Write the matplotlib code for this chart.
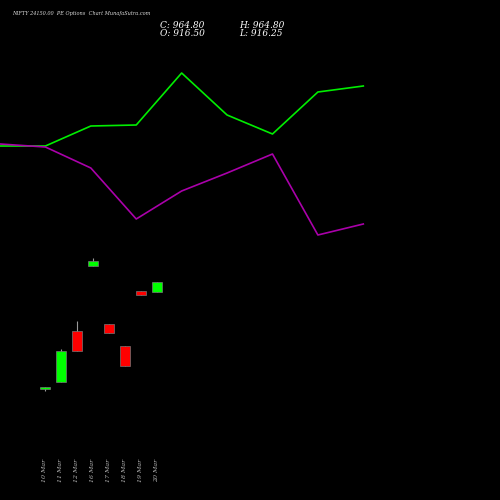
import matplotlib
matplotlib.use("Agg")
import matplotlib.pyplot as plt

dates = ["10 Mar","11 Mar","12 Mar","16 Mar","17 Mar","18 Mar","19 Mar","20 Mar"]
opens = [448, 482, 728, 1042, 762, 656, 921, 916.5]
highs = [458, 641, 776, 1081, 762, 656, 921, 964.8]
lows = [438, 481, 631, 1042, 718, 559, 902, 916.25]
closes = [457, 631, 631, 1066, 718, 559, 902, 964.8]
green_line = [354, 354, 374, 375, 427, 385, 366, 408, 414]
magenta_line = [356, 353, 332, 281, 309, 327, 346, 265, 276]

fig = plt.figure(figsize=(5, 5), dpi=100, facecolor="black")
ax = fig.add_axes([0, 0, 1, 1], facecolor="black")
ax.set_xlim(-2.81, 28.44)
ax.set_ylim(-88, 2327)
for i, (o, h, l, c) in enumerate(zip(opens, highs, lows, closes)):
    col = "#00ff00" if c >= o else "#ff0000"
    ax.vlines(i, l, h, color="#999999", lw=0.8, zorder=1)
    lo, hi = min(o, c), max(o, c)
    ax.bar(i, max(hi - lo, 8), bottom=lo, width=0.58, color=col,
           edgecolor="#777777", lw=0.5, zorder=2)
for i, d in enumerate(dates):
    ax.text(i, 0.036, d, transform=ax.get_xaxis_transform(), rotation=90,
            ha="center", va="bottom", color="#bbbbbb", fontsize=4.5,
            family="DejaVu Serif", style="italic")
ax.axis("off")

ax2 = fig.add_axes([0, 0, 1, 1], facecolor="none")
ax2.set_xlim(0, 11.01)
ax2.set_ylim(0, 500)
xs = list(range(len(green_line)))
ax2.plot(xs, green_line, color="#00ee00", lw=1.2)
ax2.plot(xs, magenta_line, color="#aa00aa", lw=1.2)
ax2.axis("off")

fig.text(0.024, 0.97, "NIFTY 24150.00  PE Options  Chart MunafaSutra.com",
         color="#dddddd", fontsize=3.6, family="DejaVu Serif", style="italic")
kw = dict(color="white", fontsize=6.5, family="DejaVu Serif", style="italic")
fig.text(0.32, 0.945, "C: 964.80", **kw)
fig.text(0.32, 0.928, "O: 916.50", **kw)
fig.text(0.478, 0.945, "H: 964.80", **kw)
fig.text(0.478, 0.928, "L: 916.25", **kw)
fig.savefig("out.png", dpi=100, facecolor="black")
